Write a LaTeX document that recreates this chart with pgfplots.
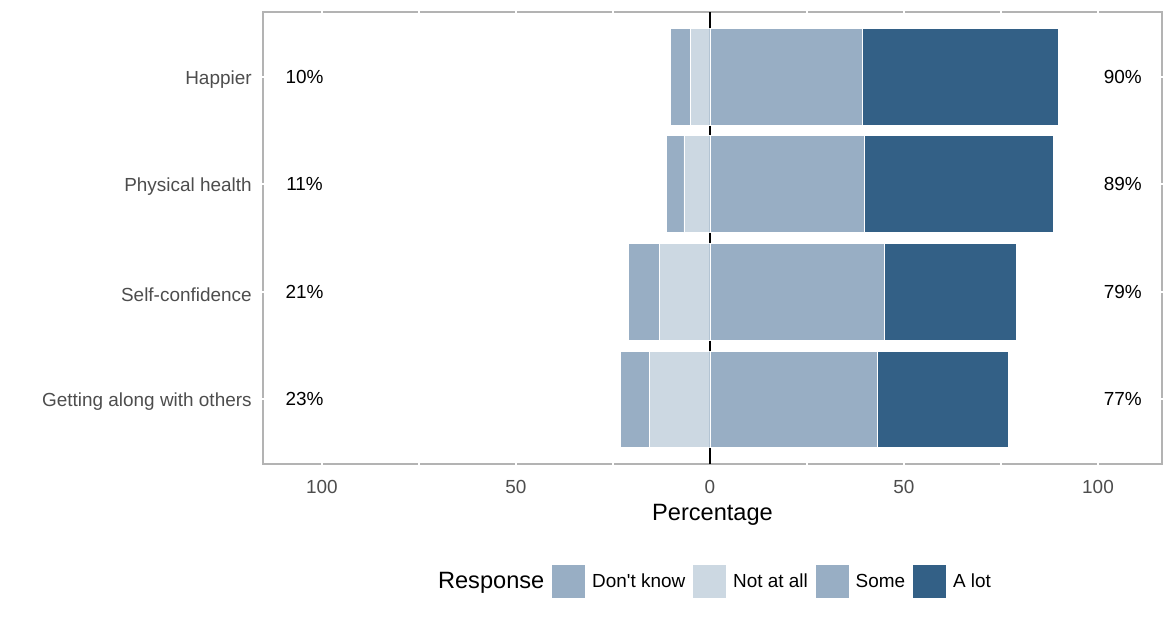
\documentclass[border=0pt]{standalone}
\usepackage{pgfplots}
\usepackage{pgfplotstable}
\pgfplotsset{compat=1.18}
\usepackage{fontspec}
\setmainfont{Liberation Sans}

\definecolor{dkcol}{HTML}{98AEC4}
\definecolor{nacol}{HTML}{CCD8E2}
\definecolor{somecol}{HTML}{98AEC4}
\definecolor{lotcol}{HTML}{336086}
\definecolor{bordergray}{HTML}{B3B3B3}
\definecolor{ticktext}{HTML}{4D4D4D}

\pgfplotsset{boxlegend/.style={legend image code/.code={\draw[##1] (0pt,-12.25pt) rectangle (25.5pt,13.25pt);}}}

% cumulative bar ends per item (1 = Getting along ... 4 = Happier)
\pgfplotstableread{
y  dk     na     some  lot
1  -23.1  -15.5  43.1  76.9
2  -21.1  -13.0  44.9  79.0
3  -11.3  -6.7   39.7  88.6
4  -10.1  -5.0   39.4  89.7
}\likert

\begin{document}
\begin{tikzpicture}
\begin{axis}[
    scale only axis,
    width=674.25pt, height=339pt,
    xmin=-115.2, xmax=116.5,
    ymin=0.4, ymax=4.6,
    font=\fontsize{14.2}{17}\selectfont,
    /pgf/number format/assume math mode=true,
    axis line style={bordergray, line width=1.2pt},
    major tick length=0pt,
    xtick={-100,-50,0,50,100},
    xticklabels={100,50,0,50,100},
    ytick={1,2,3,4},
    yticklabels={Getting along with others, Self-confidence, Physical health, Happier},
    xticklabel style={ticktext, yshift=-9pt},
    yticklabel style={ticktext, xshift=-5pt, yshift=-2pt},
    xlabel={Percentage},
    xlabel style={font=\fontsize{17.7}{20}\selectfont, at={(axis description cs:0.5,-0.113)}, anchor=center},
    legend columns=-1,
    legend style={draw=none, fill=none, at={(0.5,-0.259)}, anchor=center,
        font=\fontsize{14.2}{17}\selectfont, column sep=0pt,
        /tikz/every odd column/.append style={column sep=3pt},
        /tikz/every even column/.append style={column sep=3pt}},
    after end axis/.code={
        \foreach \x in {-100,-75,-50,-25,25,50,75,100}{
            \draw[white, line width=1.4pt] (axis cs:\x,0.4) ++(0,-1pt) -- ++(0,2pt);
            \draw[white, line width=1.4pt] (axis cs:\x,4.6) ++(0,-1pt) -- ++(0,2pt);
        }
        \foreach \y in {1,2,3,4}{
            \draw[white, line width=1.4pt] (axis cs:-115.2,\y) ++(-1pt,0) -- ++(2pt,0);
            \draw[white, line width=1.4pt] (axis cs:116.5,\y) ++(-1pt,0) -- ++(2pt,0);
        }
    },
]
\addplot[black, line width=1.2pt, forget plot] coordinates {(0,0.4) (0,4.6)};

\addplot[xbar, bar width=0.9, bar shift=0pt, fill=dkcol, draw=white, line width=0.6pt, forget plot] table[x=dk, y=y] {\likert};
\addplot[xbar, bar width=0.9, bar shift=0pt, fill=nacol, draw=white, line width=0.6pt, forget plot] table[x=na, y=y] {\likert};
\addplot[xbar, bar width=0.9, bar shift=0pt, fill=lotcol, draw=white, line width=0.6pt, forget plot] table[x=lot, y=y] {\likert};
\addplot[xbar, bar width=0.9, bar shift=0pt, fill=somecol, draw=white, line width=0.6pt, forget plot] table[x=some, y=y] {\likert};

\addplot[only marks, mark=none, forget plot, point meta=explicit,
    nodes near coords={\pgfmathprintnumber{\pgfplotspointmeta}\%}, nodes near coords align=center]
    coordinates {(-104.5,1) [23] (-104.5,2) [21] (-104.5,3) [11] (-104.5,4) [10]};
\addplot[only marks, mark=none, forget plot, point meta=explicit,
    nodes near coords={\pgfmathprintnumber{\pgfplotspointmeta}\%}, nodes near coords align=center]
    coordinates {(106.4,1) [77] (106.4,2) [79] (106.4,3) [89] (106.4,4) [90]};

\addlegendimage{empty legend}
\addlegendentry{\fontsize{17.7}{20}\selectfont Response\hspace{4pt}}
\addlegendimage{boxlegend, fill=dkcol, draw=white}
\addlegendentry{Don\textquotesingle t know}
\addlegendimage{boxlegend, fill=nacol, draw=white}
\addlegendentry{Not at all}
\addlegendimage{boxlegend, fill=somecol, draw=white}
\addlegendentry{Some}
\addlegendimage{boxlegend, fill=lotcol, draw=white}
\addlegendentry{A lot}
\end{axis}
\path (current axis.south west) +(-197.25pt,-120pt) (current axis.north east) +(6pt,9pt);
\end{tikzpicture}
\end{document}
